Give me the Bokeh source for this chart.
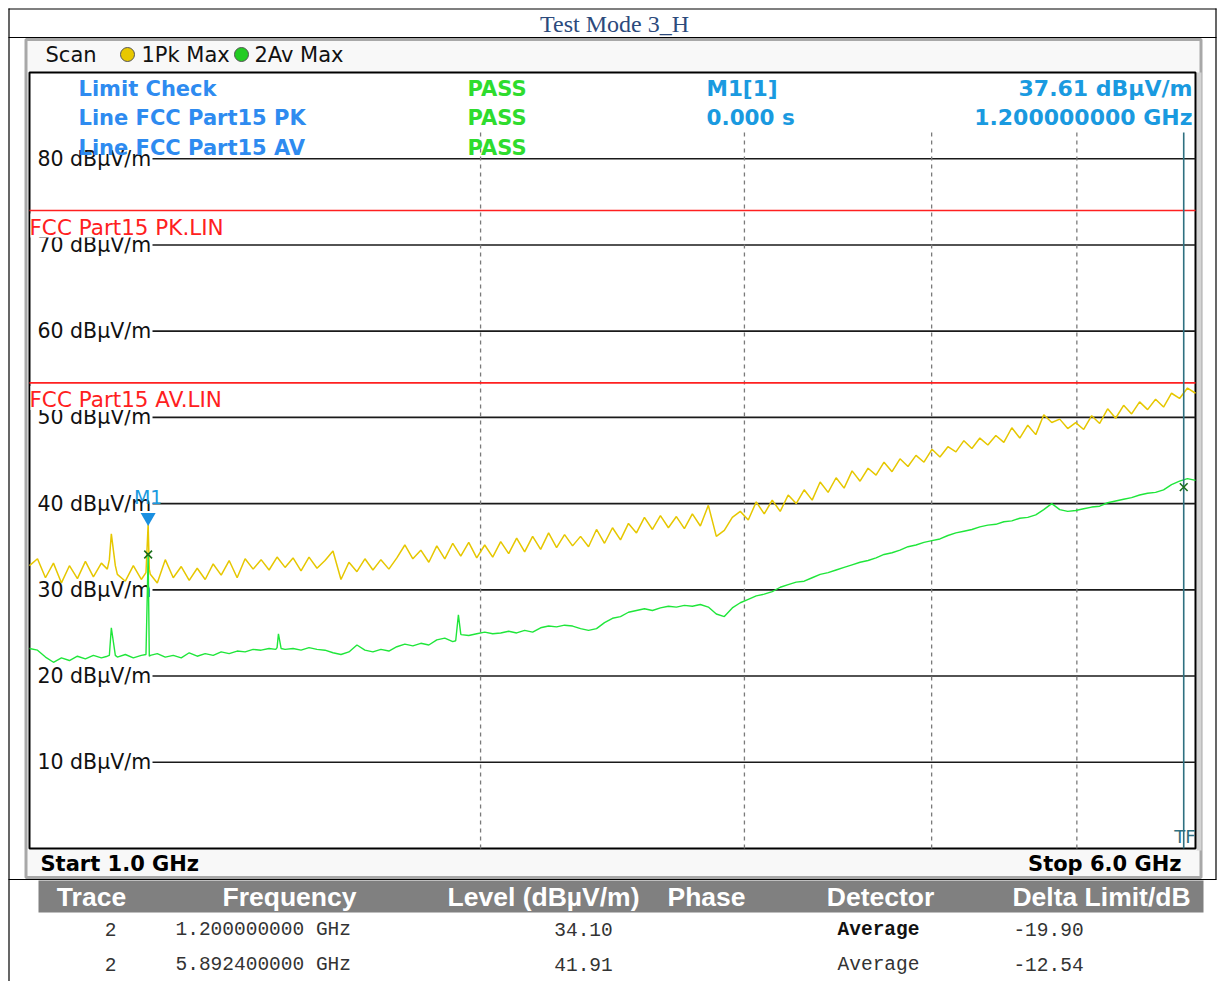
import math
import numpy as np
from bokeh.plotting import figure
from bokeh.models import Range1d, LinearScale, LogScale
from bokeh.core.properties import value
from bokeh.embed import file_html
from bokeh.resources import INLINE

# ---------------- data ----------------
TITLE = "Test Mode 3_H"
SWEEP_START_GHZ = 1.0
SWEEP_STOP_GHZ = 6.0
SWEEP_POINTS = 147

PK_LEVELS = [
    32.8, 33.6, 31.4, 33.1, 30.8, 32.8, 31.3, 33.3, 31.5, 33.1,
    33.5, 31.8, 31.0, 32.8, 31.2, 32.4, 30.8, 33.5, 31.4, 32.7,
    31.1, 32.5, 31.2, 33.0, 31.7, 33.4, 31.4, 33.6, 32.4, 33.5,
    32.3, 33.8, 32.6, 33.7, 32.2, 33.8, 32.5, 33.4, 34.5, 31.2,
    33.2, 32.1, 33.6, 32.3, 33.5, 32.4, 33.7, 35.2, 33.6, 34.6,
    33.2, 35.1, 33.6, 35.4, 33.9, 35.5, 33.7, 35.2, 33.8, 35.6,
    34.2, 36.0, 34.4, 36.2, 34.7, 36.6, 34.9, 36.4, 35.1, 36.2,
    35.0, 37.0, 35.4, 37.2, 35.8, 37.7, 36.6, 38.4, 37.0, 38.6,
    37.2, 38.5, 37.1, 38.8, 37.4, 39.8, 36.2, 36.9, 38.4, 39.1,
    38.1, 40.2, 38.8, 40.4, 39.1, 41.0, 40.0, 41.6, 40.4, 42.5,
    41.3, 43.0, 41.8, 43.8, 42.6, 44.1, 43.3, 44.8, 43.7, 45.2,
    44.3, 45.6, 44.8, 46.3, 45.4, 46.6, 46.0, 47.3, 46.4, 47.6,
    46.8, 47.9, 47.1, 48.8, 47.6, 49.1, 48.0, 50.3, 49.4, 49.8,
    48.7, 49.4, 48.6, 50.2, 49.3, 51.0, 49.9, 51.4, 50.4, 51.8,
    50.9, 52.1, 51.2, 52.8, 52.2, 53.4, 52.8,
]
AV_LEVELS = [
    23.2, 23.0, 22.2, 21.6, 22.1, 21.8, 22.3, 22.0, 22.4, 22.1,
    22.4, 22.2, 22.5, 22.1, 22.4, 22.3, 22.6, 22.2, 22.4, 22.1,
    22.7, 22.3, 22.6, 22.4, 22.8, 22.6, 22.9, 22.8, 23.1, 23.0,
    23.2, 23.3, 23.1, 23.2, 23.0, 23.3, 23.1, 23.0, 22.7, 22.5,
    22.8, 23.6, 23.0, 22.8, 23.1, 22.9, 23.4, 23.7, 23.5, 23.8,
    23.6, 24.2, 24.4, 24.0, 24.9, 24.7, 24.9, 25.1, 24.9, 25.0,
    25.2, 25.0, 25.3, 25.1, 25.6, 25.8, 25.7, 25.9, 25.8, 25.5,
    25.3, 25.5, 26.2, 26.7, 26.9, 27.4, 27.6, 27.8, 27.6, 27.9,
    28.1, 28.0, 28.2, 28.1, 28.3, 28.0, 27.2, 26.9, 27.9, 28.5,
    28.9, 29.3, 29.5, 29.8, 30.3, 30.6, 30.9, 31.0, 31.4, 31.8,
    32.0, 32.3, 32.6, 32.9, 33.2, 33.4, 33.7, 34.1, 34.3, 34.6,
    35.0, 35.2, 35.5, 35.7, 35.9, 36.3, 36.6, 36.8, 37.0, 37.3,
    37.5, 37.6, 37.9, 38.0, 38.3, 38.4, 38.7, 39.3, 40.0, 39.3,
    39.1, 39.2, 39.4, 39.6, 39.7, 40.1, 40.3, 40.5, 40.7, 41.0,
    41.2, 41.3, 41.6, 42.2, 42.6, 42.9, 42.7,
]
PK_SPIKE_GHZ = [1.127, 1.134, 1.141, 1.196, 1.200, 1.204]
PK_SPIKE_DB = [32.4, 36.5, 32.8, 32.0, 37.61, 31.8]
AV_SPIKE_GHZ = [1.127, 1.134, 1.141, 1.196, 1.200, 1.204,
                1.460, 1.466, 1.472, 1.925, 1.933, 1.941]
AV_SPIKE_DB = [22.3, 25.6, 22.4, 22.5, 34.10, 22.4,
               23.1, 24.9, 23.2, 24.1, 27.1, 24.8]

Y_TICKS = [10, 20, 30, 40, 50, 60, 70, 80]
GRID_GHZ = [2.0, 3.0, 4.0, 5.0]
LIMIT_DB = [74.0, 54.0]
LIMIT_NAMES = ["FCC Part15 PK.LIN", "FCC Part15 AV.LIN"]
MARKER_GHZ = 1.2
MARKER_PK_DB = 37.61
PEAK_GHZ = [1.2, 5.8924]
PEAK_DB = [34.10, 41.91]
TF_GHZ = 5.8924

TABLE_HEADER = ["Trace", "Frequency", "Level (dB\u00b5V/m)", "Phase", "Detector", "Delta Limit/dB"]
TABLE_TRACE = ["2", "2"]
TABLE_FREQ = ["1.200000000 GHz", "5.892400000 GHz"]
TABLE_LEVEL = ["34.10", "41.91"]
TABLE_DETECTOR = ["Average", "Average"]
TABLE_DELTA = ["-19.90", "-12.54"]

# ---------------- layout geometry (page pixels) ----------------
W, H = 1217, 981
OX = OY = 0
PL, PR, PT, PB = 29, 1195, 72, 848
DB_MIN, DB_MAX = 0.0, 90.0

lf0, lf1 = math.log10(SWEEP_START_GHZ), math.log10(SWEEP_STOP_GHZ)
kx = (lf1 - lf0) / (PR - PL)
f_lo = 10 ** (lf0 - kx * (PL - OX))
f_hi = 10 ** (lf1 + kx * (OX + W - PR))
ky = (DB_MAX - DB_MIN) / (PB - PT)
db_lo = DB_MIN - ky * (OY + H - PB)
db_hi = DB_MAX + ky * (PT - OY)


def cx(X):
    return X - OX


def cy(Y):
    return Y - OY


def db_to_Y(v):
    return PB - (v - DB_MIN) / ky


SANS = value("DejaVu Sans")

p = figure(width=W, height=H, x_range=Range1d(0, W), y_range=Range1d(H, 0),
           output_backend="svg", toolbar_location=None,
           x_axis_location=None, y_axis_location=None, min_border=0)
p.outline_line_color = None
p.grid.visible = False
p.background_fill_color = "white"
p.border_fill_color = "white"
p.extra_x_ranges = {"f": Range1d(f_lo, f_hi)}
p.extra_x_scales = {"f": LogScale()}
p.extra_y_ranges = {"db": Range1d(db_lo, db_hi)}
p.extra_y_scales = {"db": LinearScale()}

# ---------------- page frame + title ----------------
p.segment(x0=[cx(8), cx(8), cx(8.5), cx(1215.5), cx(8)],
          y0=[cy(8.5), cy(37), cy(8), cy(8), cy(879)],
          x1=[cx(1216), cx(1216), cx(8.5), cx(1215.5), cx(1216)],
          y1=[cy(8.5), cy(37), cy(981), cy(879), cy(879)],
          line_color="black", line_width=1.2)
p.text(x=[cx(614)], y=[cy(23)], text=[TITLE], text_font=value("Liberation Serif"),
       text_font_size="24px", text_color="#2C4A7C", text_align="center",
       text_baseline="middle")

# ---------------- analyzer window ----------------
p.quad(left=[cx(25.5)], right=[cx(1200.5)], top=[cy(39)], bottom=[cy(877)],
       fill_color="#f8f8f8", line_color="#a8a8a8", line_width=3)
p.quad(left=[cx(1196)], right=[cx(1201)], top=[cy(72)], bottom=[cy(850)],
       fill_color="#d4d4d4", line_color=None)
p.quad(left=[SWEEP_START_GHZ], right=[SWEEP_STOP_GHZ], bottom=[DB_MIN], top=[DB_MAX],
       x_range_name="f", y_range_name="db", fill_color="white",
       line_color="black", line_width=2)

# header line: Scan + trace legend
p.text(x=[cx(45), cx(141), cx(254)], y=[cy(54)] * 3,
       text=["Scan", "1Pk Max", "2Av Max"], text_font=SANS, text_font_size="21px",
       text_color="#111111", text_align="left", text_baseline="middle")
p.scatter(x=[cx(127), cx(241)], y=[cy(54), cy(54)], size=14, marker="circle",
          fill_color=["#E8C800", "#22CC22"], line_color="#555555", line_width=1)

# horizontal grid + level labels
p.segment(x0=[cx(152)] * len(Y_TICKS), x1=[cx(PR)] * len(Y_TICKS),
          y0=Y_TICKS, y1=Y_TICKS, y_range_name="db",
          line_color="#1a1a1a", line_width=1.6)
p.text(x=[cx(37)] * len(Y_TICKS), y=Y_TICKS, y_range_name="db",
       text=[f"{v} dB\u00b5V/m" for v in Y_TICKS], text_font=SANS,
       text_font_size="20.5px", text_color="#111111", text_align="left",
       text_baseline="middle")

# vertical dashed grid
p.segment(x0=GRID_GHZ, x1=GRID_GHZ, y0=[cy(132)] * 4, y1=[cy(PB)] * 4,
          x_range_name="f", line_color="#7a7a7a", line_width=1.3, line_dash="4 4")

# limit lines
p.segment(x0=[SWEEP_START_GHZ] * 2, x1=[SWEEP_STOP_GHZ] * 2, y0=LIMIT_DB, y1=LIMIT_DB,
          x_range_name="f", y_range_name="db", line_color="#FF2020", line_width=1.6)
lab_Y = [db_to_Y(v) + 17 for v in LIMIT_DB]
p.quad(left=[cx(PL + 1)] * 2, right=[cx(226)] * 2,
       top=[cy(y - 14) for y in lab_Y], bottom=[cy(y + 10) for y in lab_Y],
       fill_color="white", line_color=None)
p.text(x=[cx(29)] * 2, y=[cy(y) for y in lab_Y], text=LIMIT_NAMES, text_font=SANS,
       text_font_size="21.5px", text_color="#FF2020", text_align="left",
       text_baseline="middle")

# traces
freqs = np.geomspace(SWEEP_START_GHZ, SWEEP_STOP_GHZ, SWEEP_POINTS)
pk_f = np.concatenate([freqs, PK_SPIKE_GHZ])
pk_v = np.concatenate([PK_LEVELS, PK_SPIKE_DB])
o = np.argsort(pk_f)
p.line(pk_f[o], pk_v[o], x_range_name="f", y_range_name="db",
       line_color="#E6C700", line_width=1.5)
av_f = np.concatenate([freqs, AV_SPIKE_GHZ])
av_v = np.concatenate([AV_LEVELS, AV_SPIKE_DB])
o = np.argsort(av_f)
p.line(av_f[o], av_v[o], x_range_name="f", y_range_name="db",
       line_color="#1FE63A", line_width=1.4)

# TF line
p.segment(x0=[TF_GHZ], x1=[TF_GHZ], y0=[cy(132)], y1=[cy(PB)], x_range_name="f",
          line_color="#2F7080", line_width=1.6)
p.text(x=[cx(1195)], y=[cy(836)], text=["TF"], text_font=SANS, text_font_size="18px",
       text_color="#2F7080", text_align="right", text_baseline="middle")

# markers
p.scatter(x=[MARKER_GHZ], y=[MARKER_PK_DB + 7 * ky], x_range_name="f", y_range_name="db",
          marker="inverted_triangle", size=15, fill_color="#1A8FE0", line_color=None)
p.text(x=[MARKER_GHZ], y=[MARKER_PK_DB], x_range_name="f", y_range_name="db",
       text=["M1"], y_offset=-27, text_font=SANS, text_font_size="19px",
       text_color="#1A9AE0", text_align="center", text_baseline="middle")
p.scatter(x=PEAK_GHZ, y=PEAK_DB, x_range_name="f", y_range_name="db",
          marker="x", size=11, line_color="#1B6E1B", line_width=1.6)

# info block
p.text(x=[cx(78)] * 3, y=[cy(88), cy(117), cy(147)],
       text=["Limit Check", "Line FCC Part15 PK", "Line FCC Part15 AV"],
       text_font=SANS, text_font_style="bold", text_font_size="21px",
       text_color="#2E8BF0", text_align="left", text_baseline="middle")
p.text(x=[cx(467)] * 3, y=[cy(88), cy(117), cy(147)], text=["PASS"] * 3,
       text_font=SANS, text_font_style="bold", text_font_size="21px",
       text_color="#2EDC2E", text_align="left", text_baseline="middle")
p.text(x=[cx(706)] * 2, y=[cy(88), cy(117)], text=["M1[1]", "0.000 s"],
       text_font=SANS, text_font_style="bold", text_font_size="21.5px",
       text_color="#1A9AE0", text_align="left", text_baseline="middle")
p.text(x=[cx(1192)] * 2, y=[cy(88), cy(117)],
       text=[f"{MARKER_PK_DB:.2f} dB\u00b5V/m", f"{MARKER_GHZ:.9f} GHz"],
       text_font=SANS, text_font_style="bold", text_font_size="22px",
       text_color="#1A9AE0", text_align="right", text_baseline="middle")

# start / stop
p.text(x=[cx(40)], y=[cy(863)], text=[f"Start {SWEEP_START_GHZ:.1f} GHz"], text_font=SANS,
       text_font_style="bold", text_font_size="21px", text_color="black",
       text_align="left", text_baseline="middle")
p.text(x=[cx(1181)], y=[cy(863)], text=[f"Stop {SWEEP_STOP_GHZ:.1f} GHz"], text_font=SANS,
       text_font_style="bold", text_font_size="21px", text_color="black",
       text_align="right", text_baseline="middle")

# ---------------- marker table ----------------
p.quad(left=[cx(38)], right=[cx(1203)], top=[cy(880)], bottom=[cy(912)],
       fill_color="#808080", line_color=None)
hdr_x = [91, 289, 543, 706, 880, 1101]
p.text(x=[cx(v) for v in hdr_x], y=[cy(896)] * 6, text=TABLE_HEADER,
       text_font=value("Liberation Sans"), text_font_style="bold",
       text_font_size="26.5px", text_color="white", text_align="center",
       text_baseline="middle")
MONO = value("Liberation Mono")
rows_Y = [cy(929), cy(964)]
p.text(x=[cx(110)] * 2, y=rows_Y, text=TABLE_TRACE, text_font=MONO,
       text_font_size="19.5px", text_color="#333333", text_align="center",
       text_baseline="middle")
p.text(x=[cx(175)] * 2, y=rows_Y, text=TABLE_FREQ, text_font=MONO,
       text_font_size="19.5px", text_color="#333333", text_align="left",
       text_baseline="middle")
p.text(x=[cx(583)] * 2, y=rows_Y, text=TABLE_LEVEL, text_font=MONO,
       text_font_size="19.5px", text_color="#333333", text_align="center",
       text_baseline="middle")
p.text(x=[cx(878)], y=[rows_Y[0]], text=[TABLE_DETECTOR[0]], text_font=MONO,
       text_font_style="bold", text_font_size="19.5px", text_color="#111111",
       text_align="center", text_baseline="middle")
p.text(x=[cx(878)], y=[rows_Y[1]], text=[TABLE_DETECTOR[1]], text_font=MONO,
       text_font_size="19.5px", text_color="#333333", text_align="center",
       text_baseline="middle")
p.text(x=[cx(1048)] * 2, y=rows_Y, text=TABLE_DELTA, text_font=MONO,
       text_font_size="19.5px", text_color="#333333", text_align="center",
       text_baseline="middle")

open("out.html", "w").write(file_html(p, INLINE))
